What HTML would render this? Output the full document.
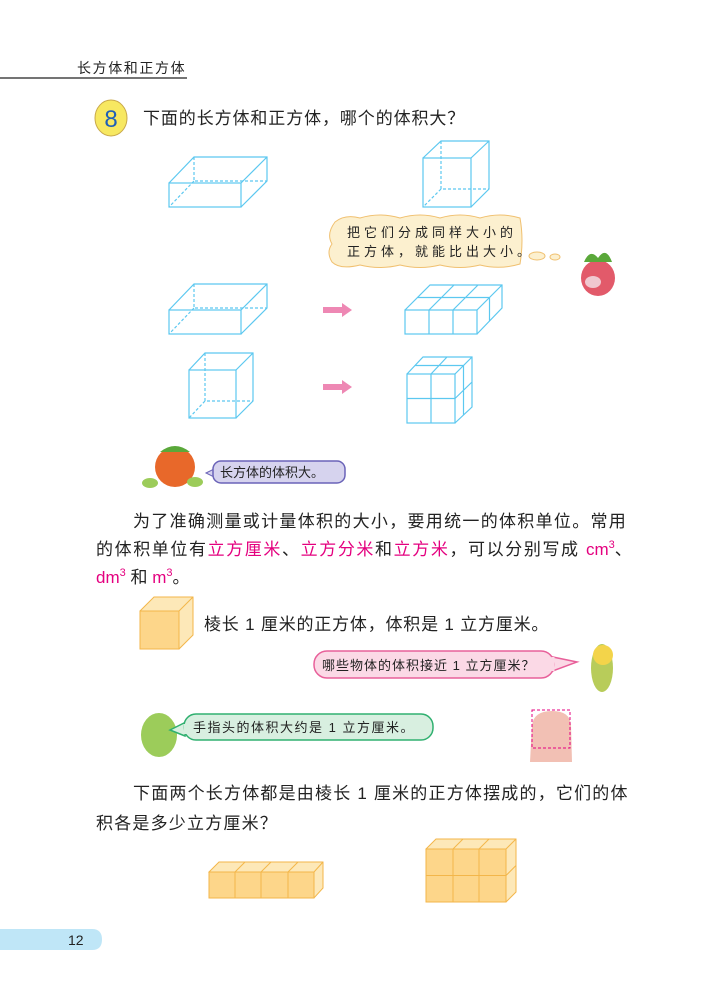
<!DOCTYPE html>
<html><head><meta charset="utf-8"><style>
html,body{margin:0;padding:0;background:#fff}
svg{display:block}
text{font-family:"Liberation Sans","Noto Sans CJK SC",sans-serif}
</style></head><body>
<svg width="722" height="1005" viewBox="0 0 722 1005" xmlns="http://www.w3.org/2000/svg">
<!-- header -->
<text x="77" y="73" font-size="14" fill="#222" letter-spacing="1.6">长方体和正方体</text>
<line x1="0" y1="78" x2="187" y2="78" stroke="#222" stroke-width="1.2"/>
<!-- icon 8 -->
<ellipse cx="111" cy="118" rx="16" ry="18" fill="#f7e861" stroke="#c9a94a"/>
<text x="111" y="127" font-size="24" fill="#1e5fb8" text-anchor="middle">8</text>
<text x="143" y="124" font-size="17" fill="#222" letter-spacing="0.9">下面的长方体和正方体，哪个的体积大？</text>

<g fill="none" stroke="#5cc8f0" stroke-width="1.2">
<rect x="169" y="183" width="72" height="24"/>
<path d="M169 183 L194 157 L267 157 L267 181 L241 207 M241 183 L267 157"/>
<path d="M194 157 V181 H267 M194 181 L169 207" stroke-dasharray="3 2"/>
<rect x="423" y="158" width="48" height="49"/>
<path d="M423 158 L441 141 H489 V189 L471 207 M471 158 L489 141"/>
<path d="M441 141 V189 H489 M441 189 L423 207" stroke-dasharray="3 2"/>
<rect x="169" y="310" width="72" height="24"/>
<path d="M169 310 L194 284 L267 284 L267 308 L241 334 M241 310 L267 284"/>
<path d="M194 284 V308 H267 M194 308 L169 334" stroke-dasharray="3 2"/>
<rect x="405" y="310" width="72" height="24"/>
<path d="M405 310 L430 285 H502 V308 L477 334 M477 310 L502 285 M429 310 V334 M453 310 V334 M429 310 L454 285 M453 310 L478 285 M417 297.5 H489.5 L489.5 321 M489.5 297.5 V321"/>
<rect x="189" y="370" width="47" height="48"/>
<path d="M189 370 L205 353 H253 V401 L236 418 M236 370 L253 353"/>
<path d="M205 353 V401 H253 M205 401 L189 418" stroke-dasharray="3 2"/>
<rect x="407" y="374" width="48" height="49"/>
<path d="M407 374 L423 357 H472 V407 L455 423 M455 374 L472 357 M431 374 V423 M407 398.5 H455 M415 365.5 H463.5 V415 M431 374 L447 357 M455 398.5 L472 382"/>
</g>
<path d="M323 307 H342 V303 L352 310 L342 317 V313 H323 Z" fill="#ee88b4"/>
<path d="M323 384 H342 V380 L352 387 L342 394 V390 H323 Z" fill="#ee88b4"/>
<!-- thought bubble -->
<path d="M335 222 Q345 214 360 218 Q380 212 400 218 Q420 212 440 218 Q460 212 480 218 Q500 212 520 218 Q524 240 520 264 Q500 270 480 265 Q460 270 440 265 Q420 270 400 265 Q380 270 360 265 Q340 270 332 262 Q326 252 332 244 Q326 234 335 222 Z" fill="#fcf0cf" stroke="#f0c070"/>
<ellipse cx="537" cy="256" rx="8" ry="4" fill="#fcf0cf" stroke="#f0c070"/>
<ellipse cx="555" cy="257" rx="5" ry="3" fill="#fcf0cf" stroke="#f0c070"/>
<text x="347" y="237" font-size="13" fill="#222" letter-spacing="4">把它们分成同样大小的</text>
<text x="347" y="256" font-size="13" fill="#222" letter-spacing="4">正方体，就能比出大小。</text>
<ellipse cx="598" cy="278" rx="17" ry="18" fill="#e25a6a"/>
<path d="M584 262 Q590 248 598 258 Q606 246 612 262 Z" fill="#5aa83a"/>
<ellipse cx="593" cy="282" rx="8" ry="6" fill="#f0c8d0"/>
<!-- tomato -->
<ellipse cx="175" cy="467" rx="20" ry="20" fill="#e8682a"/>
<path d="M160 452 Q175 440 190 452" fill="#5aa83a"/>
<ellipse cx="150" cy="483" rx="8" ry="5" fill="#9ccc5a"/>
<ellipse cx="195" cy="482" rx="8" ry="5" fill="#9ccc5a"/>
<path d="M206 473 L214 469 V477 Z" fill="#d6d3ee" stroke="#6a63b8"/>
<rect x="213" y="461" width="132" height="22" rx="8" fill="#d6d3ee" stroke="#6a63b8" stroke-width="1.5"/>
<text x="220" y="477" font-size="13" fill="#222">长方体的体积大。</text>
<!-- paragraph -->
<text x="133" y="527" font-size="17" fill="#222" letter-spacing="1.3">为了准确测量或计量体积的大小，要用统一的体积单位。常用</text>
<text x="96" y="555" font-size="17" fill="#222" letter-spacing="1.6">的体积单位有<tspan fill="#e4007f">立方厘米</tspan>、<tspan fill="#e4007f">立方分米</tspan>和<tspan fill="#e4007f">立方米</tspan>，可以分别写成 <tspan fill="#e4007f" letter-spacing="0">cm</tspan><tspan fill="#e4007f" font-size="11" dy="-7" letter-spacing="0">3</tspan><tspan dy="7">、</tspan></text>
<text x="96" y="583" font-size="17" fill="#222"><tspan fill="#e4007f">dm</tspan><tspan fill="#e4007f" font-size="11" dy="-7">3</tspan><tspan dy="7"> 和 </tspan><tspan fill="#e4007f">m</tspan><tspan fill="#e4007f" font-size="11" dy="-7">3</tspan><tspan dy="7">。</tspan></text>
<!-- yellow cube -->
<path d="M140 611 L154 597 H193 V635 L179 649 Z" fill="#fde8b8" stroke="#f3b64a"/>
<rect x="140" y="611" width="39" height="38" fill="#fdd68a" stroke="#f3b64a"/>
<path d="M179 611 L193 597" stroke="#f3b64a" fill="none"/>
<text x="204" y="630" font-size="17" fill="#222" letter-spacing="0.8">棱长 1 厘米的正方体，体积是 1 立方厘米。</text>
<!-- pink bubble -->
<path d="M548 656 L577 662 L550 672 Z" fill="#fbd9e6" stroke="#e8609a" stroke-width="1.5"/>
<rect x="314" y="651" width="240" height="27" rx="13" fill="#fbd9e6" stroke="#e8609a" stroke-width="1.5"/>
<path d="M553 657 L553 671" stroke="#fbd9e6" stroke-width="3"/>
<text x="322" y="670" font-size="13" fill="#222" letter-spacing="1">哪些物体的体积接近 1 立方厘米？</text>
<ellipse cx="602" cy="668" rx="11" ry="24" fill="#b8cc5a"/>
<ellipse cx="603" cy="655" rx="10" ry="10" fill="#f3d44a"/>
<!-- pepper -->
<ellipse cx="159" cy="735" rx="18" ry="22" fill="#9ccc5a"/>
<path d="M170 730 L186 722 L185 736 Z" fill="#d8efe0" stroke="#30b070" stroke-width="1.5"/>
<rect x="184" y="714" width="249" height="26" rx="12" fill="#d8efe0" stroke="#30b070" stroke-width="1.5"/>
<path d="M185 724 L185 734" stroke="#d8efe0" stroke-width="3"/>
<text x="193" y="732" font-size="13" fill="#222" letter-spacing="1.5">手指头的体积大约是 1 立方厘米。</text>
<path d="M530 762 L532 725 Q534 711 552 711 Q570 711 571 725 L572 762 Z" fill="#f2c0b4"/>
<rect x="532" y="710" width="38" height="38" fill="none" stroke="#e4007f" stroke-dasharray="3 2"/>
<!-- paragraph 2 -->
<text x="133" y="799" font-size="17" fill="#222" letter-spacing="1.2">下面两个长方体都是由棱长 1 厘米的正方体摆成的，它们的体</text>
<text x="96" y="829" font-size="17" fill="#222" letter-spacing="1.2">积各是多少立方厘米？</text>
<g stroke="#f3b64a" stroke-width="1">
<path d="M209 872 L219 862 H323 V888 L314 898 Z" fill="#fde8b8"/>
<rect x="209" y="872" width="105" height="26" fill="#fdd68a"/>
<path d="M235 872 V898 M261 872 V898 M288 872 V898 M235 872 L245 862 M261 872 L271 862 M288 872 L298 862 M314 872 L323 862" fill="none"/>
<path d="M426 849 L436 839 H516 V892 L506 902 Z" fill="#fde8b8"/>
<rect x="426" y="849" width="80" height="53" fill="#fdd68a"/>
<path d="M453 849 V902 M479 849 V902 M426 875.5 H506 M453 849 L463 839 M479 849 L489 839 M506 849 L516 839 M506 875.5 L516 865.5" fill="none"/>
</g>
<path d="M0 929 H92 Q102 929 102 939.5 Q102 950 92 950 H0 Z" fill="#bfe6f7"/>
<text x="68" y="945" font-size="14" fill="#222">12</text>
</svg>
</body></html>
